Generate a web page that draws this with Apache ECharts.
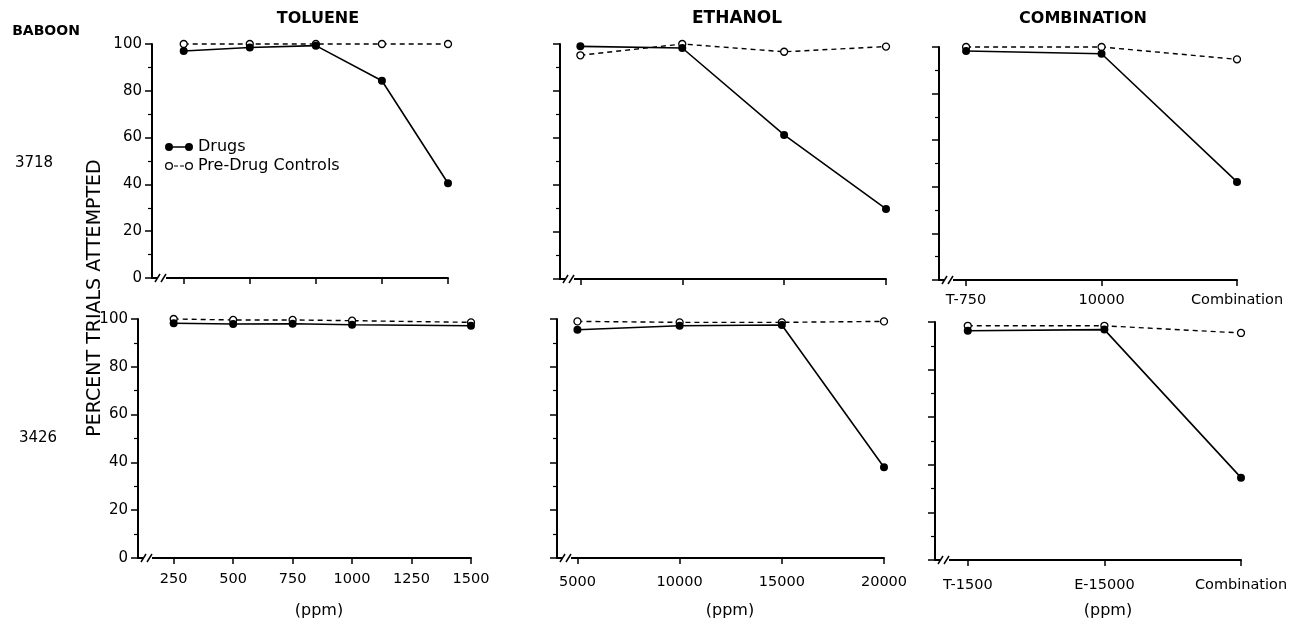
<!DOCTYPE html>
<html>
<head>
<meta charset="utf-8">
<script src="https://cdn.jsdelivr.net/npm/echarts@6/dist/echarts.min.js"></script>
<style>
  html, body { margin: 0; padding: 0; background: #fff; }
  #chart { width: 1294px; height: 628px; }
</style>
</head>
<body>
<div id="chart"></div>
<script>
// Percent of trials attempted, per baboon, drug condition and dose

// Baboon 3718 — toluene
const tolueneDoses3718 = [250, 500, 750, 1000, 1250];
const tolueneDrug3718  = [97, 98.5, 99.3, 84.3, 40.5];
const tolueneCtrl3718  = [100, 100, 100, 100, 100];

// Baboon 3718 — ethanol
const ethanolDoses3718 = [5000, 10000, 15000, 20000];
const ethanolDrug3718  = [99, 98.3, 61.3, 29.8];
const ethanolCtrl3718  = [95.2, 100, 96.7, 98.9];

// Baboon 3718 — combination
const comboCats3718 = ['T-750', '10000', 'Combination'];
const comboDrug3718 = [98.3, 97.1, 42.1];
const comboCtrl3718 = [100, 100, 94.7];

// Baboon 3426 — toluene
const tolueneDoses3426 = [250, 500, 750, 1000, 1500];
const tolueneTicks3426 = [250, 500, 750, 1000, 1250, 1500];
const tolueneDrug3426  = [98.2, 97.9, 98, 97.6, 97.2];
const tolueneCtrl3426  = [100, 99.6, 99.6, 99.3, 98.6];

// Baboon 3426 — ethanol
const ethanolDoses3426 = [5000, 10000, 15000, 20000];
const ethanolDrug3426  = [95.5, 97.2, 97.5, 38];
const ethanolCtrl3426  = [99, 98.6, 98.6, 99];

// Baboon 3426 — combination
const comboCats3426 = ['T-1500', 'E-15000', 'Combination'];
const comboDrug3426 = [96.3, 96.8, 34.6];
const comboCtrl3426 = [98.4, 98.4, 95.4];

const FONT = 'DejaVu Sans';
const INK = '#000';

const idx = arr => arr.map((_, i) => i);
const pairs = (xs, ys) => xs.map((x, i) => [x, ys[i]]);

// Panel layout: grid box, x range, tick positions and label visibility
const panels = [
  { grid: { left: 152, top: 44, width: 296, height: 234 }, xMin: 130, xMax: 1250,
    x: tolueneDoses3718, ticks: tolueneDoses3718, showX: false, showY: true,
    drug: tolueneDrug3718, ctrl: tolueneCtrl3718 },
  { grid: { left: 560, top: 44, width: 326, height: 235 }, xMin: 4000, xMax: 20000,
    x: ethanolDoses3718, ticks: ethanolDoses3718, showX: false, showY: false,
    drug: ethanolDrug3718, ctrl: ethanolCtrl3718 },
  { grid: { left: 939, top: 47, width: 298, height: 233 }, xMin: -0.2, xMax: 2,
    x: idx(comboCats3718), ticks: idx(comboCats3718), cats: comboCats3718, showX: true, showY: false,
    labelMargin: 13, drug: comboDrug3718, ctrl: comboCtrl3718 },
  { grid: { left: 138, top: 319, width: 333, height: 239 }, xMin: 100, xMax: 1500,
    x: tolueneDoses3426, ticks: tolueneTicks3426, showX: true, showY: true,
    labelMargin: 14, drug: tolueneDrug3426, ctrl: tolueneCtrl3426 },
  { grid: { left: 557, top: 319, width: 327, height: 239 }, xMin: 4000, xMax: 20000,
    x: ethanolDoses3426, ticks: ethanolDoses3426, showX: true, showY: false,
    labelMargin: 17, drug: ethanolDrug3426, ctrl: ethanolCtrl3426 },
  { grid: { left: 935, top: 322, width: 306, height: 238 }, xMin: -0.24, xMax: 2,
    x: idx(comboCats3426), ticks: idx(comboCats3426), cats: comboCats3426, showX: true, showY: false,
    labelMargin: 18, drug: comboDrug3426, ctrl: comboCtrl3426 }
];

const grids = [], xAxes = [], yAxes = [], series = [];

panels.forEach((p, i) => {
  grids.push(Object.assign({ containLabel: false }, p.grid));

  xAxes.push({
    type: 'value', gridIndex: i, min: p.xMin, max: p.xMax,
    axisLine: { show: true, onZero: false, lineStyle: { color: INK, width: 2 } },
    axisTick: { show: true, length: 6, lineStyle: { color: INK, width: 1.5 }, customValues: p.ticks },
    axisLabel: {
      show: p.showX, customValues: p.ticks, margin: p.labelMargin || 14,
      color: INK, fontFamily: FONT, fontSize: 14.5,
      formatter: v => p.cats ? p.cats[Math.round(v)] : String(v)
    },
    splitLine: { show: false }
  });

  yAxes.push({
    type: 'value', gridIndex: i, min: 0, max: 100, interval: 20,
    axisLine: { show: true, onZero: false, lineStyle: { color: INK, width: 2 } },
    axisTick: { show: true, length: 7, lineStyle: { color: INK, width: 1.5 } },
    minorTick: { show: true, splitNumber: 2, length: 4, lineStyle: { color: INK, width: 1.2 } },
    axisLabel: { show: p.showY, color: INK, fontFamily: FONT, fontSize: 15, margin: 10 },
    splitLine: { show: false }
  });

  series.push({
    name: 'Pre-Drug Controls', type: 'line', xAxisIndex: i, yAxisIndex: i,
    data: pairs(p.x, p.ctrl), clip: false, z: 3,
    symbol: 'circle', symbolSize: 7,
    lineStyle: { color: INK, width: 1.4, type: [5, 4] },
    itemStyle: { color: '#fff', borderColor: INK, borderWidth: 1.3 }
  });
  series.push({
    name: 'Drugs', type: 'line', xAxisIndex: i, yAxisIndex: i,
    data: pairs(p.x, p.drug), clip: false, z: 4,
    symbol: 'circle', symbolSize: 8,
    lineStyle: { color: INK, width: 1.6, type: 'solid' },
    itemStyle: { color: INK, borderColor: INK, borderWidth: 0 }
  });
});

// Legend keys: dot–line–dot for drugs, ring–dash–ring for controls (28 × 8 boxes)
const drugKey = 'path://M0,4 A4,4 0 1,1 8,4 A4,4 0 1,1 0,4 Z M7,3.3 L21,3.3 L21,4.7 L7,4.7 Z ' +
                'M20,4 A4,4 0 1,1 28,4 A4,4 0 1,1 20,4 Z';
const ctrlKey = 'path://M0,4 A4,4 0 1,1 8,4 A4,4 0 1,1 0,4 Z M1.3,4 A2.7,2.7 0 1,0 6.7,4 A2.7,2.7 0 1,0 1.3,4 Z ' +
                'M9,3.4 L13,3.4 L13,4.6 L9,4.6 Z M15,3.4 L19,3.4 L19,4.6 L15,4.6 Z ' +
                'M20,4 A4,4 0 1,1 28,4 A4,4 0 1,1 20,4 Z M21.3,4 A2.7,2.7 0 1,0 26.7,4 A2.7,2.7 0 1,0 21.3,4 Z';

const chart = echarts.init(document.getElementById('chart'), null, { renderer: 'canvas' });

chart.setOption({
  animation: false,
  backgroundColor: '#fff',
  grid: grids,
  xAxis: xAxes,
  yAxis: yAxes,
  legend: {
    data: [
      { name: 'Drugs', icon: drugKey, itemStyle: { color: INK, borderWidth: 0 } },
      { name: 'Pre-Drug Controls', icon: ctrlKey, itemStyle: { color: INK, borderWidth: 0 } }
    ],
    orient: 'vertical', left: 160, top: 134,
    itemWidth: 28, itemHeight: 8, itemGap: 3,
    textStyle: { color: INK, fontFamily: FONT, fontSize: 16 },
    selectedMode: false
  },
  series: series
});

// Headings, row labels and the shared y-axis name
const txt = (id, text, x, y, size, weight, rot) => ({
  type: 'text', id, x, y, rotation: rot || 0, silent: true,
  style: { text, fill: INK, font: `${weight || 'normal'} ${size}px "${FONT}"`,
           align: 'center', verticalAlign: 'middle' }
});

const graphics = [
  txt('t-tol', 'TOLUENE', 318, 19, 16, 'bold'),
  txt('t-eth', 'ETHANOL', 737, 19, 17, 'bold'),
  txt('t-com', 'COMBINATION', 1083, 19, 16, 'bold'),
  txt('baboon', 'BABOON', 46, 31, 14, 'bold'),
  txt('b3718', '3718', 34, 163, 15),
  txt('b3426', '3426', 38, 438, 15),
  txt('yname', 'PERCENT TRIALS ATTEMPTED', 95, 298, 19, 'normal', Math.PI / 2),
  txt('ppm1', '(ppm)', 319, 611, 16),
  txt('ppm2', '(ppm)', 730, 611, 16),
  txt('ppm3', '(ppm)', 1108, 611, 16)
];

// Axis-break "//" marks just right of each panel's origin
panels.forEach((p, i) => {
  const o = chart.convertToPixel({ gridIndex: i }, [p.xMin, 0]);
  const ox = o[0], oy = o[1];
  graphics.push({
    type: 'rect', id: 'gap' + i, silent: true, z: 100,
    shape: { x: ox + 5, y: oy - 3, width: 9, height: 6 },
    style: { fill: '#fff' }
  });
  [0, 6].forEach((d, k) => graphics.push({
    type: 'line', id: 'brk' + i + '-' + k, silent: true, z: 101,
    shape: { x1: ox + 3 + d, y1: oy + 4, x2: ox + 8 + d, y2: oy - 4 },
    style: { stroke: INK, lineWidth: 1.5 }
  }));
});

chart.setOption({ graphic: graphics });
</script>
</body>
</html>
